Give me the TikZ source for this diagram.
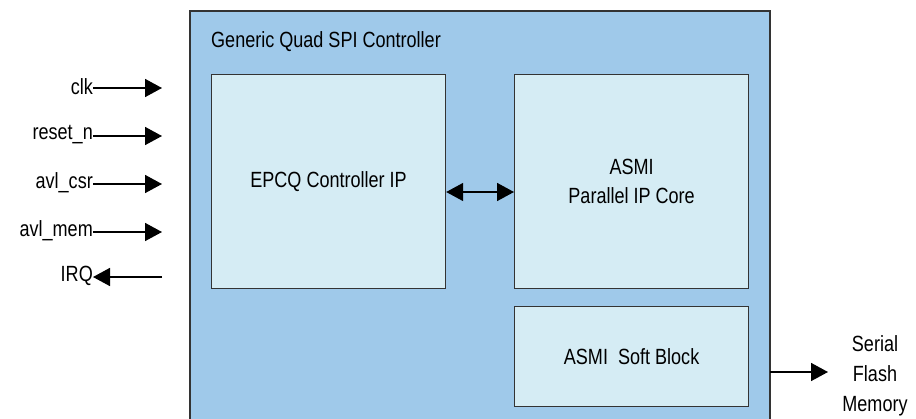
\documentclass[tikz,border=0pt]{standalone}
\usepackage{fontspec}
\setmainfont[FakeStretch=0.82]{Liberation Sans}
\usetikzlibrary{arrows.meta}
\definecolor{outerblue}{HTML}{9FC9EA}
\definecolor{innerblue}{HTML}{D5ECF4}
\definecolor{edgegray}{HTML}{333333}
\tikzset{
  x=1pt, y=-1pt,
  blockbox/.style={draw=edgegray, line width=1.2pt, fill=innerblue},
  lbl/.style={font=\fontsize{22}{26}\selectfont, inner sep=0pt},
  sig/.style={line width=1.6pt, -{Triangle[length=17pt,width=18pt]}},
  sigb/.style={line width=1.6pt, {Triangle[length=17pt,width=18pt]}-{Triangle[length=17pt,width=18pt]}}
}
\begin{document}
\begin{tikzpicture}
\useasboundingbox (0,0) rectangle (916,418);
\begin{scope}
\clip (0,0) rectangle (916,418);
\fill[outerblue] (190,11) rectangle (770,430);
\draw[edgegray, line width=1.2pt] (190,430) -- (190,11) -- (770,11) -- (770,430);
\end{scope}
\node[lbl, anchor=west] (title) at (211,42) {Generic Quad SPI Controller};
\node[blockbox, minimum width=234pt, minimum height=214pt, anchor=north west] (epcq) at (211,74) {};
\node[lbl] at (epcq.center) {EPCQ Controller IP};
\node[blockbox, minimum width=234pt, minimum height=214pt, anchor=north west] (asmi) at (514,74) {};
\node[lbl, align=center] at (asmi.center) {ASMI\\[3pt]Parallel IP Core};
\node[blockbox, minimum width=234pt, minimum height=100pt, anchor=north west] (soft) at (514,306) {};
\node[lbl] at (soft.center) {ASMI\ \ Soft Block};
\draw[sigb] (epcq.east |- 0,192) -- (asmi.west |- 0,192);
% left signals
\node[lbl, anchor=east] (clk) at (93,87) {clk};
\node[lbl, anchor=east] (rst) at (93,135) {reset\_n};
\node[lbl, anchor=east] (csr) at (93,183) {avl\_csr};
\node[lbl, anchor=east] (mem) at (93,231) {avl\_mem};
\node[lbl, anchor=east] (irq) at (93,276) {IRQ};
\coordinate (c1) at (162,88);
\coordinate (c2) at (162,136);
\coordinate (c3) at (162,184);
\coordinate (c4) at (162,232);
\coordinate (c5) at (162,277);
\draw[sig] (clk.east |- c1) -- (c1);
\draw[sig] (rst.east |- c2) -- (c2);
\draw[sig] (csr.east |- c3) -- (c3);
\draw[sig] (mem.east |- c4) -- (c4);
\draw[sig] (c5) -- (irq.east |- c5);
% serial flash
\node[lbl, align=center] (flash) at (875,376) {Serial\\[4pt]Flash\\[4pt]Memory};
\coordinate (s0) at (770,372);
\coordinate (s1) at (828,372);
\draw[sig] (s0) -- (s1);
\end{tikzpicture}
\end{document}
